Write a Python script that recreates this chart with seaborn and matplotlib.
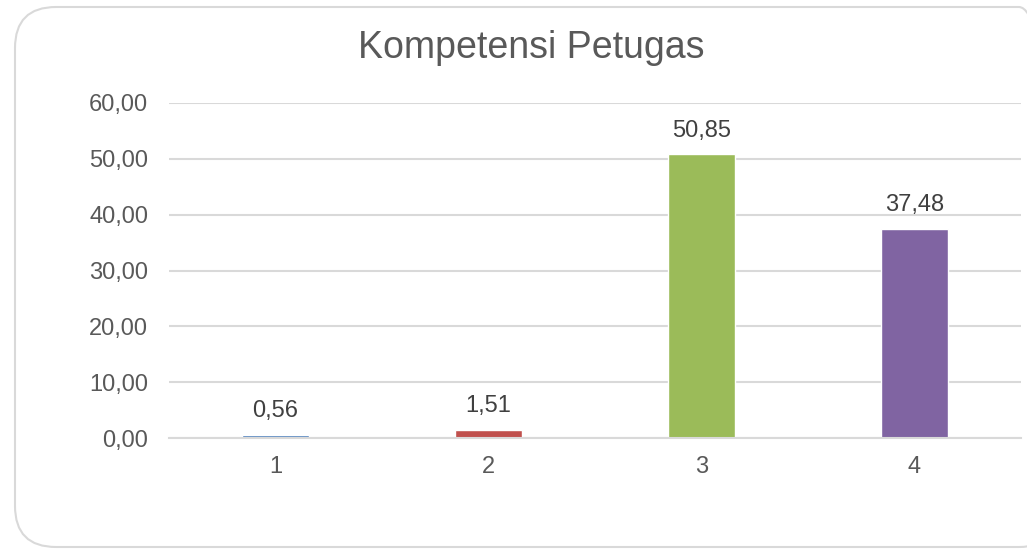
import matplotlib
matplotlib.use("Agg")
import matplotlib.pyplot as plt
import seaborn as sns
import pandas as pd
from matplotlib.patches import FancyBboxPatch
from matplotlib.ticker import FuncFormatter

categories = ["1", "2", "3", "4"]
values = [0.56, 1.51, 50.85, 37.48]
colors = ["#4F81BD", "#C0504D", "#9BBB59", "#8064A2"]
title = "Kompetensi Petugas"

sns.set_theme(style="white")
plt.rcParams["font.family"] = ["Liberation Sans", "DejaVu Sans"]

W, H = 1027, 549
fig = plt.figure(figsize=(W / 100, H / 100), dpi=100)
ax = fig.add_axes([169 / W, 1 - 438 / H, (1021 - 169) / W, (438 - 103) / H])

df = pd.DataFrame({"cat": categories, "val": values})
sns.barplot(data=df, x="cat", y="val", hue="cat", palette=colors, width=0.315,
            legend=False, ax=ax, saturation=1)

ax.set_ylim(0, 60)
ax.set_yticks(range(0, 61, 10))
ax.yaxis.set_major_formatter(FuncFormatter(lambda v, p: f"{v:.2f}".replace(".", ",")))
ax.grid(axis="y", color="#D9D9D9", linewidth=1.5)
ax.set_axisbelow(True)
for s in ["top", "right", "left"]:
    ax.spines[s].set_visible(False)
ax.spines["bottom"].set_color("#D9D9D9")
ax.spines["bottom"].set_linewidth(1.5)
ax.set_xlabel("")
ax.set_ylabel("")
ax.tick_params(axis="both", length=0, labelsize=17, colors="#595959")
ax.tick_params(axis="y", pad=15)
ax.tick_params(axis="x", pad=13)

for cont in ax.containers:
    ax.bar_label(cont, labels=[f"{v:.2f}".replace(".", ",") for v in cont.datavalues],
                 padding=9, fontsize=17, color="#404040")

fig.text(531 / W, 1 - 48 / H, title, ha="center", va="center", fontsize=27, color="#595959")

border = FancyBboxPatch((15 / W, 1 - 547 / H), (1060 - 15) / W, (547 - 7) / H,
                        boxstyle="round,pad=0,rounding_size=0.04", transform=fig.transFigure,
                        facecolor="none", edgecolor="#D9D9D9", linewidth=1.5, mutation_aspect=W / H)
fig.patches.append(border)

fig.savefig("out.png", dpi=100, facecolor="white")
